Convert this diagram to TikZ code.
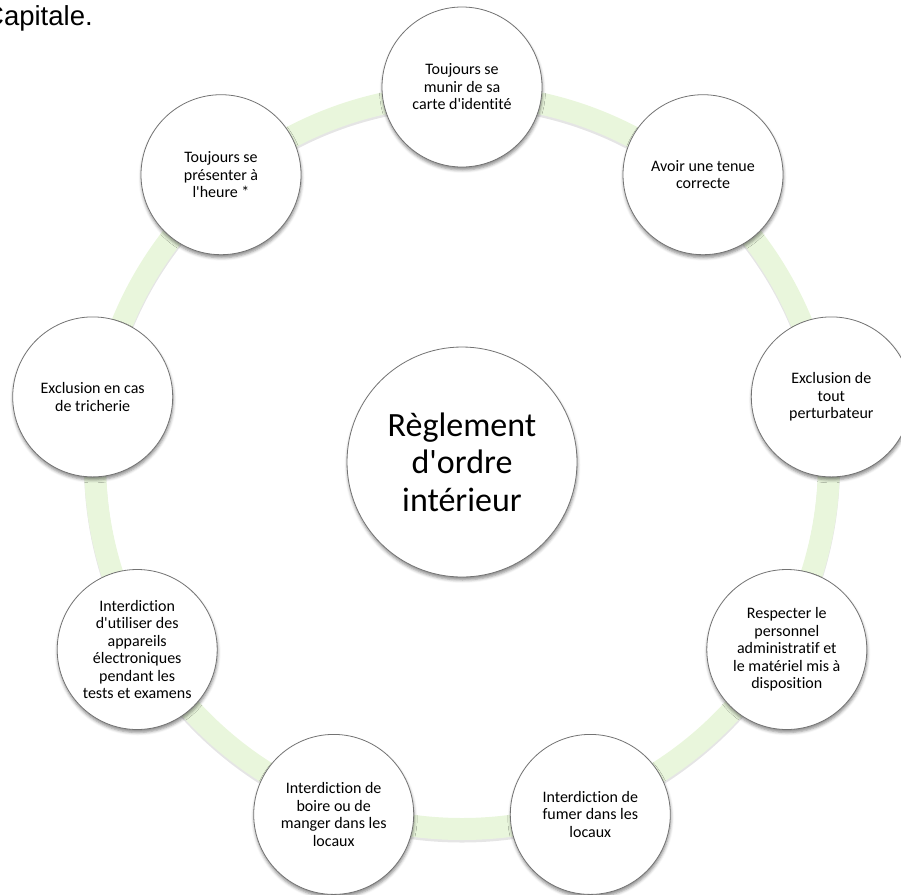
\documentclass[tikz,border=0pt]{standalone}
\usepackage{fontspec}
\setmainfont{Carlito}[Ligatures={TeXOff,CommonOff}]
\newfontfamily\arialfont{Liberation Sans}
\usetikzlibrary{shadows.blur}
\definecolor{ringgreen}{RGB}{233,246,220}
\definecolor{rimgray}{RGB}{115,115,115}
\begin{document}
\begin{tikzpicture}[x=1pt,y=-1pt,
  item/.style={circle, draw=rimgray, line width=0.8pt, fill=white,
    minimum size=160pt, inner sep=0pt, align=center,
    font=\fontsize{16}{17.5}\selectfont,
    blur shadow={shadow xshift=0.5pt, shadow yshift=-3pt,
      shadow blur radius=3pt, shadow opacity=45}},
  hub/.style={item, minimum size=230pt, font=\fontsize{34}{37.5}\selectfont},
  ringband/.style={ringgreen, line width=22pt},
  ringshade/.style={black, opacity=0.10, line width=22pt}]
\useasboundingbox (0,0) rectangle (901,894);
\coordinate (c) at (462,462);
\coordinate (cs) at (462,464.5);
\draw[ringshade] (cs) circle[radius=367];
\draw[ringband] (c) circle[radius=367];
\node[anchor=base west, inner sep=0pt,
  font=\arialfont\fontsize{27.5}{32}\selectfont] (cap) at (-16,25) {Capitale.};
\node[hub] (hub) at (c) {Règlement\\d'ordre\\intérieur};
\node[item] (n1) at (462,87) {Toujours se\\munir de sa\\carte d'identité};
\node[item] (n2) at (703,174.7) {Avoir une tenue\\correcte};
\node[item] (n3) at (831.3,396.9) {Exclusion de\\tout\\perturbateur};
\node[item] (n4) at (786.8,649.5) {Respecter le\\personnel\\administratif et\\le matériel mis à\\disposition};
\node[item] (n5) at (590.3,814.4) {Interdiction de\\fumer dans les\\locaux};
\node[item] (n6) at (333.7,814.4) {Interdiction de\\boire ou de\\manger dans les\\locaux};
\node[item] (n7) at (137.2,649.5) {Interdiction\\d'utiliser des\\appareils\\électroniques\\pendant les\\tests et examens};
\node[item] (n8) at (92.7,396.9) {Exclusion en cas\\de tricherie};
\node[item] (n9) at (221,174.7) {Toujours se\\présenter à\\l'heure *};
\end{tikzpicture}
\end{document}
